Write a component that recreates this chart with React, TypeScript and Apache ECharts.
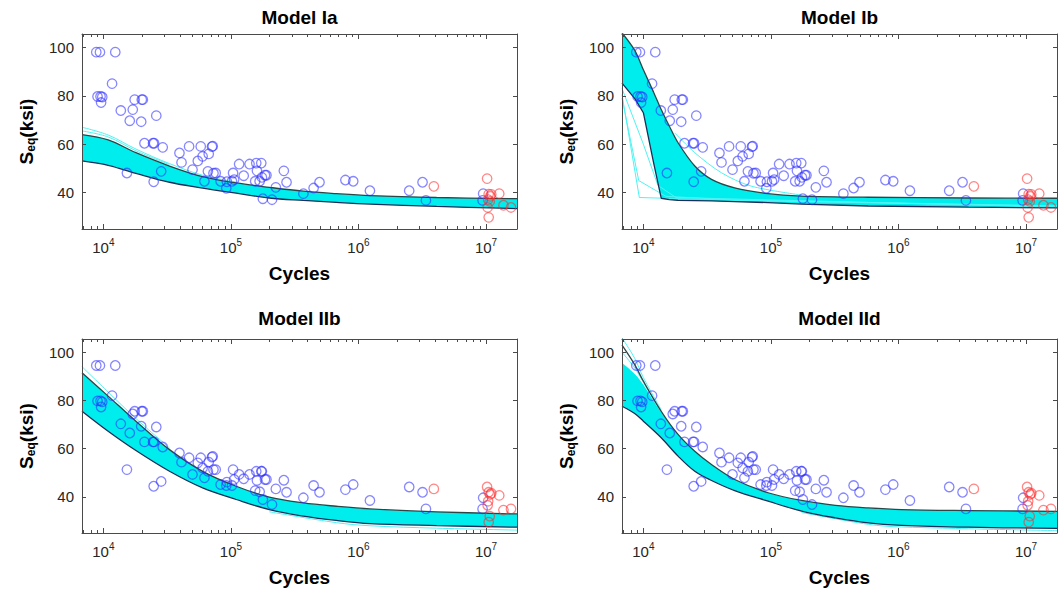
import { useEffect, useRef } from 'react';
import * as echarts from 'echarts';

const FONT = '"Liberation Sans", Arial, Helvetica, sans-serif';
const AXIS_COLOR = '#4a4a4a';
const LABEL_COLOR = '#262626';
const BAND_COLOR = '#00EDED';
const FRINGE_COLOR = '#4EF3F3';
const UPPER_COLOR = '#2c4648';
const LOWER_COLOR = '#1f2d58';
const FAIL_COLOR = 'rgba(45, 45, 255, 0.72)';
const RUNOUT_COLOR = 'rgba(255, 45, 45, 0.72)';

// Axis ranges and ticks
const X_MIN = 6800;
const X_MAX = 1.75e7;
const Y_MIN = 25;
const Y_MAX = 105.5;
const majorTicks = [1e4, 1e5, 1e6, 1e7];
const minorTicks = [
  7e3, 8e3, 9e3,
  2e4, 3e4, 4e4, 5e4, 6e4, 7e4, 8e4, 9e4,
  2e5, 3e5, 4e5, 5e5, 6e5, 7e5, 8e5, 9e5,
  2e6, 3e6, 4e6, 5e6, 6e6, 7e6, 8e6, 9e6,
];
const yTicks = [40, 60, 80, 100];

const panelTitles = ['Model Ia', 'Model Ib', 'Model IIb', 'Model IId'];

// Failed specimens: cycles and equivalent stress (ksi) under model family I and II
const failCycles = [
  8800, 9400, 12400, 11700, 9000, 9500, 9800, 9600, 13700, 17000,
  17600, 20000, 20400, 16100, 19800, 26000, 21000, 24500, 25000, 29200,
  15300, 24800, 28400, 39500, 41000, 47000, 50000, 55000, 58000, 60000,
  62000, 67000, 66000, 71000, 72000, 73000, 76000, 83000, 92000, 93000,
  104000, 102000, 106000, 116000, 126000, 140000, 155000, 158000, 160000, 168000,
  173000, 178000, 185000, 190000, 175000, 210000, 225000, 260000, 273000, 370000,
  445000, 495000, 790000, 910000, 1230000, 2500000, 3180000, 3380000, 9500000, 9400000,
];
const failSeqI = [
  98, 98, 98, 85, 79.7, 79.7, 79.5, 77.2, 73.9, 74.3,
  78.4, 78.4, 78.4, 69.7, 69.3, 71.8, 60.4, 60.4, 60.4, 58.7,
  48.1, 44.5, 48.8, 56.4, 52.5, 59.1, 49.5, 53.1, 59.1, 55,
  44.7, 56, 48.8, 59, 59.2, 48, 48.1, 44.7, 41.8, 44.5,
  48.1, 44.7, 45.4, 51.8, 47, 51.8, 44.7, 52.2, 49, 44.7,
  52.2, 37.5, 47.2, 47.2, 46.3, 37.1, 42.2, 49, 44.3, 39.6,
  41.9, 44.3, 45.2, 44.7, 40.8, 40.8, 44.3, 36.8, 39.6, 36.8,
];
const failSeqII = [
  94.5, 94.5, 94.5, 82, 79.8, 79.8, 79.4, 77.3, 70.3, 74.4,
  75.5, 75.5, 75.5, 66.5, 69.3, 69, 62.8, 62.8, 62.8, 60.7,
  51.3, 44.4, 46.4, 58.2, 54.4, 56.2, 49.3, 54.1, 56.2, 52,
  47.9, 54.4, 50.6, 56.5, 56.8, 51.3, 51.3, 45.1, 44.7, 46.1,
  51.3, 44.7, 47.2, 49.3, 47.5, 49.3, 42.6, 50.6, 46.8, 42.1,
  50.6, 38.9, 47.2, 47.2, 50.6, 36.8, 43.3, 46.9, 41.9, 39.6,
  44.7, 41.9, 43, 45.1, 38.5, 44.1, 41.9, 35, 39.6, 35,
];

// Run-outs
const runoutCycles = [3900000, 10200000, 10500000, 10800000, 10400000, 10300000, 10500000, 10700000, 11000000, 12700000, 13700000, 15700000];
const runoutSeqI = [42.6, 45.8, 39.4, 38.5, 37.1, 33.9, 29.8, 36.4, 39.3, 39.6, 34.8, 33.9];
const runoutSeqII = [43.3, 44.1, 41.9, 41, 38.2, 36.5, 29.5, 32, 41.5, 40.6, 34.5, 35];

// Prediction bands (upper / lower bounding curves)
const bandX = [6800, 10900, 18000, 33000, 60000, 110000, 200000, 370000, 670000, 1230000, 4100000, 17500000];
const upperIa = [64, 61.8, 56.5, 51, 46.6, 44, 42.2, 40.6, 39.6, 38.8, 38, 37.5];
const lowerIa = [53.1, 51.3, 48, 44.3, 41.9, 39.8, 37.8, 36.8, 36, 35.3, 34.3, 33.4];
const upperIIb = [91.5, 81.8, 71.4, 59.6, 50.6, 44.4, 39.9, 37.5, 36.1, 35, 33.8, 32.9];
const lowerIIb = [75.5, 67.2, 59.2, 50.6, 43.7, 38.9, 34.7, 32, 30.2, 28.9, 28.1, 27.4];

const bandXIb = [6800, 8600, 10000, 12000, 13800, 16000, 18700, 25300, 34200, 52000, 95000, 174000, 580000, 3550000, 17500000];
const upperIb = [106, 98.6, 90.7, 81.6, 74.3, 67.4, 60.6, 51, 45.5, 42, 39.6, 38.6, 38.1, 37.8, 37.7];
const lowerIb = [85.2, 78.7, 73, 52.6, 37.7, 37.1, 36.8, 36.7, 36.6, 36.3, 35.9, 35.3, 34.5, 34, 33.7];

const bandXIId = [6800, 8550, 10000, 13800, 18700, 25300, 34200, 52000, 95000, 174000, 320000, 580000, 1060000, 3550000, 17500000];
const upperIId = [103, 94.9, 88, 75.5, 65.9, 58.9, 53.4, 47.2, 41.7, 38.5, 36.5, 35.4, 34.7, 34.3, 34];
const fillTopIId = [95.5, 91, 86.5, 75, 65.9, 58.9, 53.4, 47.2, 41.7, 38.5, 36.5, 35.4, 34.7, 34.3, 34];
const lowerIId = [77.6, 74.6, 71.4, 64.5, 56.9, 50.6, 46.8, 42.6, 38.2, 34.1, 31.3, 29.2, 28.2, 27.4, 26.9];

// Individual sample curves that stray from the dense band
const fringeIaA: [number, number][] = [[6800, 67], [10900, 63.8], [18000, 58], [33000, 52], [60000, 47.2], [110000, 44.4]];
const fringeIaB: [number, number][] = [[6800, 65.5], [10900, 63], [18000, 57.3], [33000, 51.6]];
const fringeIbA: [number, number][] = [[17600, 64.7], [25300, 56.5], [41000, 48.2], [70000, 42.7], [174000, 39]];
const strayIbA: [number, number][] = [[6800, 79], [9200, 45], [15000, 38.5], [50000, 37], [17500000, 34.5]];
const strayIbB: [number, number][] = [[6800, 80.5], [9300, 38], [20000, 37.5], [100000, 36.5], [17500000, 34.5]];
const strayIbC: [number, number][] = [[6800, 83], [10000, 60], [13000, 43], [18000, 38], [17500000, 34]];
const fringeIIbA: [number, number][] = [[6800, 94], [10900, 83.5], [18000, 72.5], [33000, 60.3]];
const fringeIIbB: [number, number][] = [[200000, 33.8], [670000, 29.3], [1230000, 28], [4100000, 27], [17500000, 26.2]];
const fringeIIdA: [number, number][] = [[6800, 106], [8550, 97.5], [10000, 89.5], [13800, 76.2]];
const fringeIIdB: [number, number][] = [[6800, 100], [8550, 93.5], [10000, 87.5], [13800, 75.5]];
const fringeIIdC: [number, number][] = [[174000, 33.5], [580000, 28.6], [1060000, 27.5], [17500000, 26]];

const GRIDS = [
  { left: 82, top: 34, width: 435, height: 195 },
  { left: 622, top: 34, width: 435, height: 195 },
  { left: 82, top: 339, width: 435, height: 194 },
  { left: 622, top: 339, width: 435, height: 194 },
];
const TITLE_Y = [17, 17, 318, 318];

const zip = (xs: number[], ys: number[]) => xs.map((x, i) => [x, ys[i]]);

const panels = [
  {
    seq: failSeqI, runSeq: runoutSeqI, x: bandX, upper: upperIa, fillTop: upperIa, lower: lowerIa,
    smoothUpper: 0.35, smoothLower: 0.35,
    fringes: [{ pts: fringeIaA, smooth: 0.35 }, { pts: fringeIaB, smooth: 0.35 }],
  },
  {
    seq: failSeqI, runSeq: runoutSeqI, x: bandXIb, upper: upperIb, fillTop: upperIb, lower: lowerIb,
    smoothUpper: 0.3, smoothLower: 0,
    fringes: [
      { pts: fringeIbA, smooth: 0.3 },
      { pts: strayIbA, smooth: 0 },
      { pts: strayIbB, smooth: 0 },
      { pts: strayIbC, smooth: 0 },
    ],
  },
  {
    seq: failSeqII, runSeq: runoutSeqII, x: bandX, upper: upperIIb, fillTop: upperIIb, lower: lowerIIb,
    smoothUpper: 0.35, smoothLower: 0.35,
    fringes: [{ pts: fringeIIbA, smooth: 0.35 }, { pts: fringeIIbB, smooth: 0.35 }],
  },
  {
    seq: failSeqII, runSeq: runoutSeqII, x: bandXIId, upper: upperIId, fillTop: fillTopIId, lower: lowerIId,
    smoothUpper: 0.35, smoothLower: 0.35,
    fringes: [
      { pts: fringeIIdA, smooth: 0.35 },
      { pts: fringeIIdB, smooth: 0.35 },
      { pts: fringeIIdC, smooth: 0.35 },
    ],
  },
];

function xAxisFor(gridIndex: number, position: 'top' | 'bottom', major: boolean) {
  const isLabelled = major && position === 'bottom';
  return {
    type: 'log',
    logBase: 10,
    gridIndex,
    position,
    min: X_MIN,
    max: X_MAX,
    z: 5,
    axisLine: { show: major, onZero: false, lineStyle: { color: AXIS_COLOR, width: 1 } },
    axisTick: {
      show: true,
      inside: true,
      length: major ? 5 : 3,
      customValues: major ? majorTicks : minorTicks,
      lineStyle: { color: AXIS_COLOR, width: 1 },
    },
    minorTick: { show: false },
    splitLine: { show: false },
    axisLabel: isLabelled
      ? {
          show: true,
          customValues: majorTicks,
          margin: 8,
          formatter: (v: number) => `{b|10}{e|${Math.round(Math.log10(v))}}`,
          rich: {
            b: { fontSize: 15, fontFamily: FONT, color: LABEL_COLOR },
            e: { fontSize: 10, fontFamily: FONT, color: LABEL_COLOR, padding: [0, 0, 10, 0] },
          },
        }
      : { show: false },
    ...(isLabelled
      ? {
          name: 'Cycles',
          nameLocation: 'middle',
          nameGap: 35,
          nameTextStyle: { fontSize: 19, fontWeight: 'bold', color: '#000', fontFamily: FONT },
        }
      : {}),
  };
}

function yAxisFor(gridIndex: number, position: 'left' | 'right') {
  const left = position === 'left';
  return {
    type: 'value',
    gridIndex,
    position,
    min: Y_MIN,
    max: Y_MAX,
    z: 5,
    axisLine: { show: true, onZero: false, lineStyle: { color: AXIS_COLOR, width: 1 } },
    axisTick: { show: true, inside: true, length: 4, customValues: yTicks, lineStyle: { color: AXIS_COLOR, width: 1 } },
    splitLine: { show: false },
    axisLabel: left
      ? { show: true, customValues: yTicks, fontSize: 15, color: LABEL_COLOR, fontFamily: FONT, margin: 8 }
      : { show: false },
    ...(left
      ? {
          name: '{m|S}{s|eq}{m|(ksi)}',
          nameLocation: 'middle',
          nameRotate: 90,
          nameGap: 45,
          nameTextStyle: {
            rich: {
              m: { fontSize: 19, fontWeight: 'bold', color: '#000', fontFamily: FONT },
              s: { fontSize: 12, fontWeight: 'bold', color: '#000', fontFamily: FONT, padding: [9, 0, 0, 0] },
            },
          },
        }
      : {}),
  };
}

function buildOption() {
  const xAxis: any[] = [];
  const yAxis: any[] = [];
  const series: any[] = [];
  const graphic: any[] = [];

  panels.forEach((p, i) => {
    const xi = xAxis.length;
    xAxis.push(xAxisFor(i, 'bottom', true), xAxisFor(i, 'bottom', false), xAxisFor(i, 'top', true), xAxisFor(i, 'top', false));
    const yi = yAxis.length;
    yAxis.push(yAxisFor(i, 'left'), yAxisFor(i, 'right'));
    const axes = { xAxisIndex: xi, yAxisIndex: yi };

    // band: cyan area under the band top, then a white area under the lower bound
    series.push({
      type: 'line', ...axes, z: 1, data: zip(p.x, p.fillTop), symbol: 'none',
      smooth: p.smoothUpper, lineStyle: { width: 0, opacity: 0 },
      areaStyle: { color: BAND_COLOR, opacity: 1, origin: 'start' }, silent: true,
    });
    series.push({
      type: 'line', ...axes, z: 1, data: zip(p.x, p.lower), symbol: 'none',
      smooth: p.smoothLower, lineStyle: { width: 0, opacity: 0 },
      areaStyle: { color: '#ffffff', opacity: 1, origin: 'start' }, silent: true,
    });
    p.fringes.forEach((f) => {
      series.push({
        type: 'line', ...axes, z: 2, data: f.pts, symbol: 'none', smooth: f.smooth,
        lineStyle: { width: 1, color: FRINGE_COLOR }, silent: true,
      });
    });
    series.push({
      type: 'line', ...axes, z: 3, data: zip(p.x, p.upper), symbol: 'none', smooth: p.smoothUpper,
      lineStyle: { width: 1.3, color: UPPER_COLOR }, silent: true,
    });
    series.push({
      type: 'line', ...axes, z: 3, data: zip(p.x, p.lower), symbol: 'none', smooth: p.smoothLower,
      lineStyle: { width: 1.3, color: LOWER_COLOR }, silent: true,
    });
    series.push({
      type: 'scatter', ...axes, z: 4, data: zip(failCycles, p.seq), symbol: 'circle', symbolSize: 9.5,
      itemStyle: { color: 'rgba(0,0,0,0)', borderColor: FAIL_COLOR, borderWidth: 1.3 }, silent: true,
    });
    series.push({
      type: 'scatter', ...axes, z: 4, data: zip(runoutCycles, p.runSeq), symbol: 'circle', symbolSize: 9.5,
      itemStyle: { color: 'rgba(0,0,0,0)', borderColor: RUNOUT_COLOR, borderWidth: 1.3 }, silent: true,
    });

    const g = GRIDS[i];
    graphic.push({
      type: 'text',
      x: g.left + g.width / 2,
      y: TITLE_Y[i],
      style: {
        text: panelTitles[i],
        font: `bold 19px ${FONT}`,
        fill: '#000',
        align: 'center',
        verticalAlign: 'middle',
      },
    });
  });

  return {
    animation: false,
    backgroundColor: '#ffffff',
    grid: GRIDS.map((g) => ({ ...g, containLabel: false })),
    xAxis,
    yAxis,
    series,
    graphic,
  };
}

export default function App() {
  const ref = useRef<HTMLDivElement>(null);
  useEffect(() => {
    const chart = echarts.init(ref.current!, null, { renderer: 'svg' });
    chart.setOption(buildOption() as any);
    return () => chart.dispose();
  }, []);
  return (
    <div
      ref={ref}
      style={{ position: 'absolute', left: 0, top: 0, width: 1062, height: 595, background: '#fff' }}
    />
  );
}
